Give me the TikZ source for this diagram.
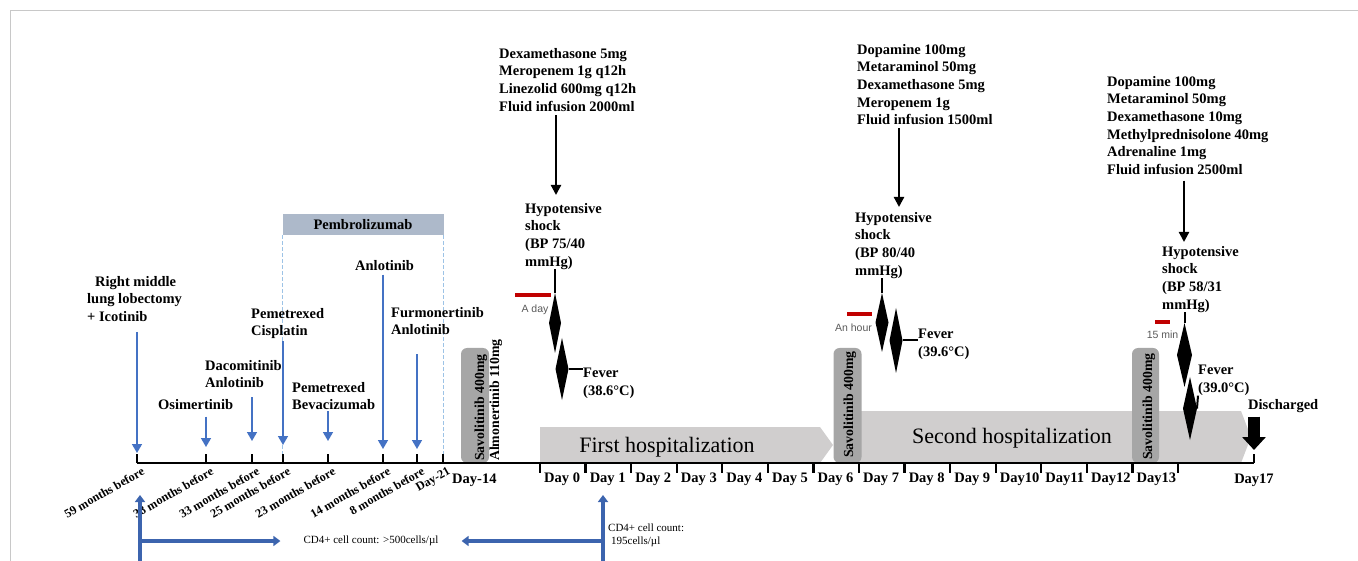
\documentclass[tikz,border=0pt]{standalone}
\usepackage{fontspec}
\setmainfont{Liberation Serif}
\newfontfamily\durfont{Liberation Sans}
\usetikzlibrary{arrows.meta,shapes.geometric,positioning,calc}

\definecolor{medblue}{HTML}{4472C4}
\definecolor{cdblue}{HTML}{3C64AE}
\definecolor{pembfill}{HTML}{ADB9CA}
\definecolor{pembline}{HTML}{9DC3E6}
\definecolor{hospgray}{HTML}{D0CECE}
\definecolor{savogray}{HTML}{A6A6A6}
\definecolor{durred}{HTML}{C00000}
\definecolor{durtext}{HTML}{595959}
\definecolor{framegray}{HTML}{C8C8C8}

\tikzset{
  lbl/.style={font=\fontsize{14.5}{17.6}\selectfont\bfseries, inner sep=0pt, align=left, anchor=north west},
  monthlbl/.style={font=\fontsize{12.2}{14}\selectfont\bfseries, inner sep=0pt, rotate=30, anchor=north east},
  daylbl/.style={font=\fontsize{14.5}{17}\selectfont\bfseries, inner sep=0pt, anchor=base west},
  medarrow/.style={medblue, line width=1.6pt, -{Triangle[width=10pt,length=9pt]}},
  bigarrow/.style={black, line width=2.2pt, -{Triangle[width=10pt,length=10pt]}},
  cdarrow/.style={cdblue, line width=3.2pt, -{Triangle[width=10pt,length=7pt]}},
  spike/.style={diamond, fill=black, inner sep=0pt, outer sep=0pt},
  spikeline/.style={black, line width=2pt},
  durbar/.style={durred, line width=4pt},
  durlbl/.style={font=\durfont\fontsize{10.5}{12}\selectfont, text=durtext, inner sep=0pt},
  savobox/.style={fill=savogray, rounded corners=6pt, inner sep=0pt, minimum width=28pt, minimum height=115pt},
  rottext/.style={font=\fontsize{13.8}{16}\selectfont\bfseries, inner sep=0pt, rotate=90, anchor=base west},
  hosplbl/.style={font=\fontsize{22}{26}\selectfont, inner sep=0pt, anchor=base},
  cdlbl/.style={font=\fontsize{11}{13}\selectfont, inner sep=0pt, align=left},
  pembdash/.style={pembline, line width=1pt, dash pattern=on 4pt off 2pt},
  tick/.style={black, line width=2.2pt},
}

\begin{document}
\begin{tikzpicture}[x=1pt,y=-1pt]
\useasboundingbox (0,0) rectangle (1358,561);
\draw[framegray, line width=0.8pt] (10,561) -- (10,10) -- (1358,10);

% hospital stays
\fill[hospgray] (540,427) -- (820,427) -- (833,445) -- (820,463) -- (540,463) -- cycle;
\fill[hospgray] (850,411) -- (1241,411) -- (1251,437) -- (1241,463) -- (850,463) -- cycle;
\node[hosplbl] (hosp1) at (667,452) {First hospitalization};
\node[hosplbl] (hosp2) at (1012,443) {Second hospitalization};

% time axis points
\foreach \n/\x in {m59/137, m38/206, m33/252, m25/283, m23/328, m14/383, m8/417, dm21/443}
  \coordinate (\n) at (\x,463);
\foreach \i in {0,...,14}
  \coordinate (t\i) at ({540+45.57*\i},463);
\coordinate (t17) at (1254,463);

% pembrolizumab period
\node[fill=pembfill, minimum width=161pt, minimum height=21pt, inner sep=0pt,
      font=\fontsize{14.5}{17}\selectfont\bfseries] (pembro) at (363,224.5) {Pembrolizumab};
\draw[pembdash] (pembro.south west) -- (pembro.south west |- m25);
\draw[pembdash] (pembro.south east) -- (pembro.south east |- dm21);

% oral drugs
\node[savobox] (box1) at (475,405.5) {};
\node[savobox] (box2) at (847.5,405.5) {};
\node[savobox, minimum width=27pt] (box3) at (1145.5,405.5) {};
\node[rottext] (savo1) at (484,461) {Savolitinib 400mg};
\node[rottext] (almo) at (499,461) {Almonertinib 110mg};
\node[rottext] (savo2) at (853,458) {Savolitinib 400mg};
\node[rottext] (savo3) at (1152,460) {Savolitinib 400mg};

% axis and ticks
\draw[line width=2.5pt] (m59) -- (t17);
\foreach \n in {m59,m38,m33,m25,m23,m14,m8,dm21,t17}
  \draw[tick] (\n) -- ++(0,-9);
\foreach \i in {0,...,14}
  \draw[tick] (t\i) -- ++(0,10);

\foreach \n/\t in {m59/59 months before, m38/38 months before, m33/33 months before,
                   m25/25 months before, m23/23 months before, m14/14 months before,
                   m8/8 months before, dm21/Day-21}
  \node[monthlbl] (l\n) at ([xshift=4pt,yshift=-3pt]\n) {\t};
\foreach \i in {0,...,9}
  \node[daylbl] (lday\i) at ([xshift=4pt,yshift=-19pt]t\i) {Day \i};
\foreach \i in {10,...,13}
  \node[daylbl] (lday\i) at ([xshift=4pt,yshift=-19pt]t\i) {Day\i};
\node[daylbl] (ldaym14) at (452,483) {Day-14};
\node[daylbl, anchor=base] (lday17) at ([yshift=-20pt]t17) {Day17};

% treatment history
\node[lbl] (lobect) at (87,276) {\hspace*{8pt}Right middle\\lung lobectomy\\+ Icotinib};
\node[lbl] (osim) at (158,399) {Osimertinib};
\node[lbl] (daco) at (205,360) {Dacomitinib\\Anlotinib};
\node[lbl] (pemcis) at (251,308) {Pemetrexed\\Cisplatin};
\node[lbl] (pembev) at (292,382) {Pemetrexed\\Bevacizumab};
\node[lbl] (anlo) at (355,260) {Anlotinib};
\node[lbl] (furmo) at (391,307) {Furmonertinib\\Anlotinib};

\draw[medarrow, shorten <=10pt] (lobect.south -| m59) -- ([yshift=10pt]m59);
\draw[medarrow, shorten <=7pt] (osim.south -| m38) -- ([yshift=16pt]m38);
\draw[medarrow, shorten <=9pt] (daco.south -| m33) -- ([yshift=22pt]m33);
\draw[medarrow, shorten <=2pt] (pemcis.south -| m25) -- ([yshift=18pt]m25);
\draw[medarrow, shorten <=1pt] (pembev.south -| m23) -- ([yshift=22pt]m23);
\draw[medarrow, shorten <=4pt] (anlo.south -| m14) -- ([yshift=14pt]m14);
\draw[medarrow, shorten <=19pt] (furmo.south -| m8) -- ([yshift=14pt]m8);

% shock episodes
\coordinate (ev1) at (556,0);
\coordinate (ev2) at (899,0);
\coordinate (ev3) at (1184,0);

\node[lbl] (med1) at (499,48) {Dexamethasone 5mg\\Meropenem 1g q12h\\Linezolid 600mg q12h\\Fluid infusion 2000ml};
\node[lbl] (shock1) at (525,203) {Hypotensive\\shock\\(BP 75/40\\mmHg)};
\node[lbl] (fever1) at (583,368) {Fever\\(38.6°C)};
\node[lbl] (med2) at (857,44) {Dopamine 100mg\\Metaraminol 50mg\\Dexamethasone 5mg\\Meropenem 1g\\Fluid infusion 1500ml};
\node[lbl] (shock2) at (855,212) {Hypotensive\\shock\\(BP 80/40\\mmHg)};
\node[lbl] (fever2) at (918,329) {Fever\\(39.6°C)};
\node[lbl] (med3) at (1107,76) {Dopamine 100mg\\Metaraminol 50mg\\Dexamethasone 10mg\\Methylprednisolone 40mg\\Adrenaline 1mg\\Fluid infusion 2500ml};
\node[lbl] (shock3) at (1162,246) {Hypotensive\\shock\\(BP 58/31\\mmHg)};
\node[lbl] (fever3) at (1198,365) {Fever\\(39.0°C)};
\node[lbl] (disch) at (1248,399) {Discharged};

\draw[bigarrow, shorten <=4pt, shorten >=8pt] (med1.south -| ev1) -- (shock1.north -| ev1);
\draw[bigarrow, shorten <=3pt, shorten >=5pt] (med2.south -| ev2) -- (shock2.north -| ev2);
\draw[bigarrow, shorten <=6pt, shorten >=4pt] (med3.south -| ev3) -- (shock3.north -| ev3);

\node[spike, minimum width=12pt, minimum height=60pt] (sp1a) at (555,323) {};
\node[spike, minimum width=13pt, minimum height=62pt] (sp1b) at (562,369) {};
\node[spike, minimum width=13pt, minimum height=59pt] (sp2a) at (882,322.5) {};
\node[spike, minimum width=13pt, minimum height=65pt] (sp2b) at (896,340.5) {};
\node[spike, minimum width=15pt, minimum height=64pt] (sp3a) at (1184.5,355) {};
\node[spike, minimum width=14pt, minimum height=63pt] (sp3b) at (1190,408.5) {};

\draw[spikeline] (shock1.south -| sp1a.north) -- (sp1a.north);
\draw[spikeline] (shock2.south -| sp2a.north) -- (sp2a.north);
\draw[spikeline] (shock3.south -| sp3a.north) -- (sp3a.north);
\draw[spikeline] (sp1b.east) -- (sp1b.east -| fever1.west);
\draw[spikeline] (sp2b.east) -- (sp2b.east -| fever2.west);
\draw[spikeline] (sp3b.east) -- (fever3.south west);

% durations
\draw[durbar] (515,295) -- (551,295) node[durlbl, midway, below=8pt, xshift=2pt] (dur1) {A day};
\draw[durbar] (847,314) -- (872,314) node[durlbl, midway, below=8pt, xshift=-6pt] (dur2) {An hour};
\draw[durbar] (1155,322) -- (1170,322) node[durlbl, midway, below=7pt] (dur3) {15 min};

% discharge
\draw[line width=12pt, -{Triangle[width=23pt,length=13pt]}, shorten <=4pt] (disch.south -| t17) -- ([yshift=13pt]t17);

% CD4 counts
\coordinate (cdbase1) at (140,561);
\coordinate (cdtip1) at (140,495);
\coordinate (cdbase2) at (603,561);
\coordinate (cdtip2) at (603,495);
\node[cdlbl] (cd4pre) at (371,541) {CD4+ cell count: >500cells/µl};
\node[cdlbl, anchor=north west] (cd4post) at (608,524) {CD4+ cell count:\\\hspace*{3pt}195cells/µl};
\draw[cdarrow] (cdbase1) -- (cdtip1);
\draw[cdarrow] (cdbase2) -- (cdtip2);
\draw[cdarrow] (cdbase1 |- cd4pre) -- ([xshift=-23pt]cd4pre.west);
\draw[cdarrow] (cdbase2 |- cd4pre) -- ([xshift=23pt]cd4pre.east);
\end{tikzpicture}
\end{document}
